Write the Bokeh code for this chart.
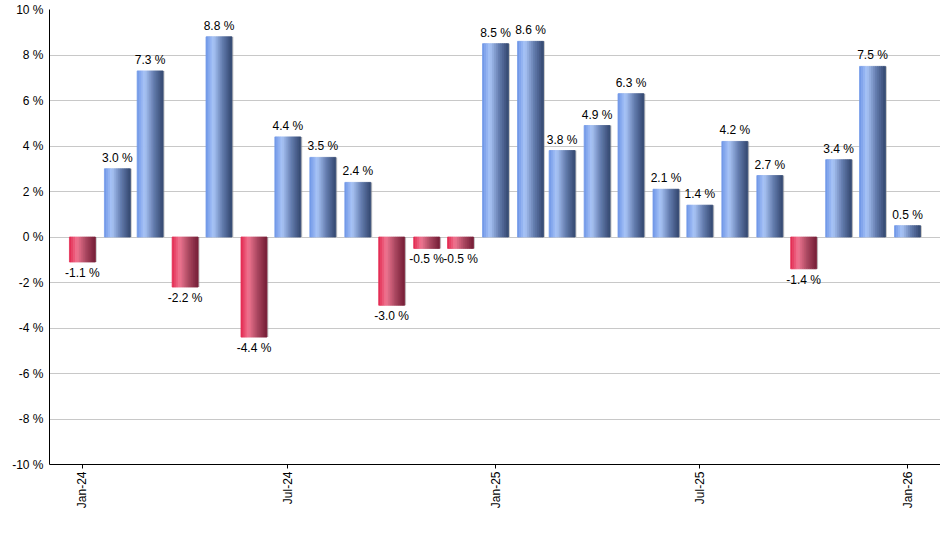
import numpy as np
import pandas as pd
from bokeh.plotting import figure
from bokeh.models import ColumnDataSource, Range1d, MonthsTicker, DatetimeTickFormatter, FixedTicker, CustomJSTickFormatter
from bokeh.core.properties import value
from bokeh.embed import file_html
from bokeh.resources import INLINE

# monthly returns, Jan-24 .. Jan-26
months = ["2024-01", "2024-02", "2024-03", "2024-04", "2024-05", "2024-06",
          "2024-07", "2024-08", "2024-09", "2024-10", "2024-11", "2024-12",
          "2025-01", "2025-02", "2025-03", "2025-04", "2025-05", "2025-06",
          "2025-07", "2025-08", "2025-09", "2025-10", "2025-11", "2025-12",
          "2026-01"]
returns = [-1.1, 3.0, 7.3, -2.2, 8.8, -4.4, 4.4, 3.5, 2.4, -3.0, -0.5, -0.5,
           8.5, 8.6, 3.8, 4.9, 6.3, 2.1, 1.4, 4.2, 2.7, -1.4, 3.4, 7.5, 0.5]
y_ticks = [-10, -8, -6, -4, -2, 0, 2, 4, 6, 8, 10]

FONT = "Liberation Sans"
DAY = 86400000.0

df = pd.DataFrame({"date": pd.to_datetime(months), "ret": returns})
df["label"] = df["ret"].map(lambda v: f"{v:.1f} %")
df["top"] = df["ret"].clip(lower=0)
df["bottom"] = df["ret"].clip(upper=0)

p = figure(width=940, height=540, output_backend="svg", toolbar_location=None,
           x_axis_type="datetime",
           x_range=Range1d(pd.Timestamp("2023-12-02 20:00"), pd.Timestamp("2026-01-30 05:00")),
           y_range=Range1d(-10, 10),
           min_border_left=49, min_border_right=0, min_border_top=9, min_border_bottom=76)
p.outline_line_color = None
p.background_fill_color = "white"
p.border_fill_color = "white"

bar_w = 23.0 * DAY

# shadow on the right edge
p.vbar(x=[d + pd.Timedelta(hours=30) for d in df["date"]], width=bar_w,
       top=df["top"], bottom=df["bottom"], fill_color="#9a9a9a", fill_alpha=0.55, line_color=None)

# gradient bars built from thin strips
def grad(stops, t):
    for (t0, c0), (t1, c1) in zip(stops[:-1], stops[1:]):
        if t0 <= t <= t1:
            f = (t - t0) / (t1 - t0)
            c = [int(round(a + (b - a) * f)) for a, b in zip(c0, c1)]
            return "#%02x%02x%02x" % tuple(c)
    return "#%02x%02x%02x" % tuple(stops[-1][1])

blue_stops = [(0.0, (108, 148, 230)), (0.3, (170, 198, 248)), (0.65, (100, 125, 175)), (1.0, (52, 72, 112))]
red_stops = [(0.0, (226, 36, 76)), (0.3, (240, 118, 146)), (0.65, (170, 70, 95)), (1.0, (118, 30, 54))]

pos = df[df["ret"] >= 0]
neg = df[df["ret"] < 0]
n = 13
sw = bar_w / n
for i in range(n):
    t = (i + 0.5) / n
    off = pd.Timedelta(milliseconds=(t - 0.5) * bar_w)
    cb = grad(blue_stops, t)
    cr = grad(red_stops, t)
    p.vbar(x=pos["date"] + off, width=sw, top=pos["ret"], bottom=0,
           fill_color=cb, line_color=cb, line_width=0.8)
    p.vbar(x=neg["date"] + off, width=sw, top=0, bottom=neg["ret"],
           fill_color=cr, line_color=cr, line_width=0.8)

# value labels
src_pos = ColumnDataSource(pos)
src_neg = ColumnDataSource(neg)
p.text(x="date", y="ret", text="label", source=src_pos, text_align="center",
       text_baseline="bottom", y_offset=-4, text_font=value(FONT), text_font_size="12px",
       text_color="black")
p.text(x="date", y="ret", text="label", source=src_neg, text_align="center",
       text_baseline="top", y_offset=4, text_font=value(FONT), text_font_size="12px",
       text_color="black")

# axes
p.yaxis.ticker = FixedTicker(ticks=y_ticks)
p.yaxis.formatter = CustomJSTickFormatter(code="return tick + ' %';")
p.yaxis.major_tick_out = 0
p.yaxis.major_tick_in = 0
p.yaxis.minor_tick_line_color = None
p.yaxis.axis_line_color = "black"
p.yaxis.major_label_standoff = 6
p.yaxis.major_label_text_font = FONT
p.yaxis.major_label_text_font_size = "12px"
p.yaxis.major_label_text_color = "black"

p.xaxis.ticker = MonthsTicker(months=[0, 6])
p.xaxis.formatter = DatetimeTickFormatter(months="%b-%y", years="%b-%y", days="%b-%y")
p.xaxis.major_label_orientation = np.pi / 2
p.xaxis.major_tick_out = 4
p.xaxis.major_tick_in = 0
p.xaxis.minor_tick_line_color = None
p.xaxis.axis_line_color = "black"
p.xaxis.major_tick_line_color = "black"
p.xaxis.major_label_standoff = 3
p.xaxis.major_label_text_font = FONT
p.xaxis.major_label_text_font_size = "12px"
p.xaxis.major_label_text_color = "black"

p.xgrid.grid_line_color = None
p.ygrid.grid_line_color = "#c8c8c8"
p.ygrid.ticker = FixedTicker(ticks=y_ticks)

open("out.html", "w").write(file_html(p, INLINE))
